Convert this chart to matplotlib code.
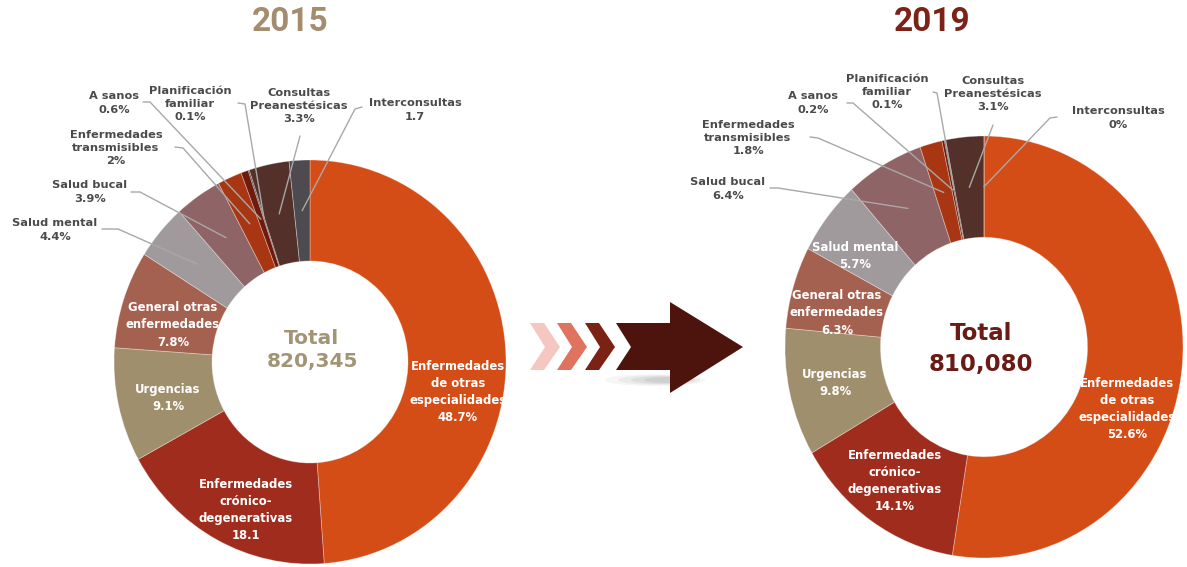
import matplotlib
matplotlib.use("Agg")
import matplotlib.pyplot as plt
from matplotlib.patches import Polygon, Ellipse

# ---------------- data ----------------
names = ["Enfermedades\nde otras\nespecialidades",
         "Enfermedades\ncrónico-\ndegenerativas",
         "Urgencias",
         "General otras\nenfermedades",
         "Salud mental",
         "Salud bucal",
         "Enfermedades\ntransmisibles",
         "A sanos",
         "Planificación\nfamiliar",
         "Consultas\nPreanestésicas",
         "Interconsultas"]
values_2015 = [48.7, 18.1, 9.1, 7.8, 4.4, 3.9, 2.0, 0.6, 0.1, 3.3, 1.7]
values_2019 = [52.6, 14.1, 9.8, 6.3, 5.7, 6.4, 1.8, 0.2, 0.1, 3.1, 0.0]
labels_2015 = ["48.7%", "18.1", "9.1%", "7.8%", "4.4%", "3.9%", "2%", "0.6%", "0.1%", "3.3%", "1.7"]
labels_2019 = ["52.6%", "14.1%", "9.8%", "6.3%", "5.7%", "6.4%", "1.8%", "0.2%", "0.1%", "3.1%", "0%"]
years = ["2015", "2019"]
totals = ["820,345", "810,080"]

colors = ["#D44D17", "#A02C1E", "#A08F6D", "#A5614F", "#A19A9C", "#8F6466",
          "#A83612", "#6E1A0C", "#3E2622", "#53302A", "#4E4B50"]

W, H = 1187, 567
fig = plt.figure(figsize=(W / 100, H / 100), dpi=100)
fig.patch.set_facecolor("white")

ov = fig.add_axes([0, 0, 1, 1], zorder=5)
ov.set_xlim(0, W)
ov.set_ylim(H, 0)
ov.axis("off")
ov.patch.set_visible(False)

LBL = "#4A4A4A"
LINE = "#A8A8A8"
LS = 1.42


def donut(cx, cy, rx, ry, hole, vals):
    ax = fig.add_axes([(cx - rx) / W, 1 - (cy + ry) / H, 2 * rx / W, 2 * ry / H], zorder=1)
    wedges, _ = ax.pie(vals, colors=colors, startangle=90, counterclock=False, radius=1,
                       wedgeprops=dict(width=1 - hole, edgecolor=(1, 1, 1, 0.35), linewidth=0.6))
    ax.set_aspect("auto")
    ax.set_xlim(-1, 1)
    ax.set_ylim(-1, 1)
    ax.axis("off")
    return ax, wedges


def anchor(ax, w, r):
    import math
    t = math.radians((w.theta1 + w.theta2) / 2)
    disp = ax.transData.transform((r * math.cos(t), r * math.sin(t)))
    return ov.transData.inverted().transform(disp)


configs = [
    dict(cx=310, cy=362, rx=196, ry=202, hole=0.50, vals=values_2015, labs=labels_2015,
         year_xy=(290, 22), year_color="#A48D6E", tot_color="#A39476", tot_size=14.5,
         tot_xy=(312, 338, 361),
         inside={0: (458, 392), 1: (246, 510), 2: (168, 398), 3: (173, 325)},
         outside={4: (55, 230, 102, 229, 118, 229),
                  5: (90, 192, 131, 192, 140, 192),
                  6: (116, 148, 175, 147, 183, 148),
                  7: (114, 103, 143, 102, 150, 102),
                  8: (190, 104, 238, 103, 245, 104),
                  9: (299, 106, 300, 136, 300, 136),
                  10: (415, 110, 362, 107, 355, 109)}),
    dict(cx=984, cy=347, rx=199, ry=211, hole=0.52, vals=values_2019, labs=labels_2019,
         year_xy=(932, 22), year_color="#7C2217", tot_color="#6A1B15", tot_size=16.5,
         tot_xy=(981, 333, 364),
         inside={0: (1127, 409), 1: (895, 481), 2: (835, 383), 3: (837, 313), 4: (855, 256)},
         outside={5: (728, 189, 770, 188, 778, 188),
                  6: (748, 138, 810, 137, 818, 138),
                  7: (813, 103, 847, 103, 853, 103),
                  8: (887, 92, 933, 92, 937, 93),
                  9: (993, 94, 993, 125, 993, 125),
                  10: (1118, 118, 1057, 117, 1050, 118)}),
]

for i, c in enumerate(configs):
    ax, wedges = donut(c["cx"], c["cy"], c["rx"], c["ry"], c["hole"], c["vals"])
    # year title
    ov.text(c["year_xy"][0], c["year_xy"][1], years[i], ha="center", va="center",
            fontsize=24, fontweight="bold", family="Roboto", color=c["year_color"])
    # centre total
    tx, ty1, ty2 = c["tot_xy"]
    ov.text(tx, ty1, "Total", ha="center", va="center", fontsize=c["tot_size"],
            fontweight="bold", color=c["tot_color"])
    ov.text(tx, ty2, totals[i], ha="center", va="center", fontsize=c["tot_size"],
            fontweight="bold", color=c["tot_color"])
    # inside labels
    for k, (x, y) in c["inside"].items():
        ov.text(x, y, names[k] + "\n" + c["labs"][k], ha="center", va="center",
                fontsize=8.4, fontweight="bold", color="white", linespacing=LS)
    # outside labels with leader lines
    for k, (x, y, sx, sy, kx, ky) in c["outside"].items():
        ov.text(x, y, names[k] + "\n" + c["labs"][k], ha="center", va="center",
                fontsize=8.2, fontweight="bold", color=LBL, linespacing=LS)
        ex, ey = anchor(ax, wedges[k], (1 + c["hole"]) / 2)
        ov.plot([sx, kx, ex], [sy, ky, ey], color=LINE, lw=1.0, solid_capstyle="round")

# ---------------- arrow ----------------
for j, a in enumerate([0.06, 0.08, 0.10, 0.12]):
    ov.add_patch(Ellipse((655 + 4 * j, 380), 100 - 18 * j, 12 - 2 * j, color="#707070",
                         alpha=a, lw=0))
chev = [(0, 0), (14, 0), (30, 24), (14, 47), (0, 47), (15, 24)]
for x0, col in [(530, "#F4C8C0"), (557, "#E07260"), (585, "#7B2214")]:
    ov.add_patch(Polygon([(x0 + dx, 323 + dy) for dx, dy in chev], closed=True,
                         facecolor=col, edgecolor="none"))
ov.add_patch(Polygon([(616, 323), (670, 323), (670, 302), (743, 347), (670, 393),
                      (670, 370), (616, 370), (631, 347)], closed=True,
                     facecolor="#4D140E", edgecolor="none"))

fig.savefig("out.png", dpi=100, facecolor="white")
